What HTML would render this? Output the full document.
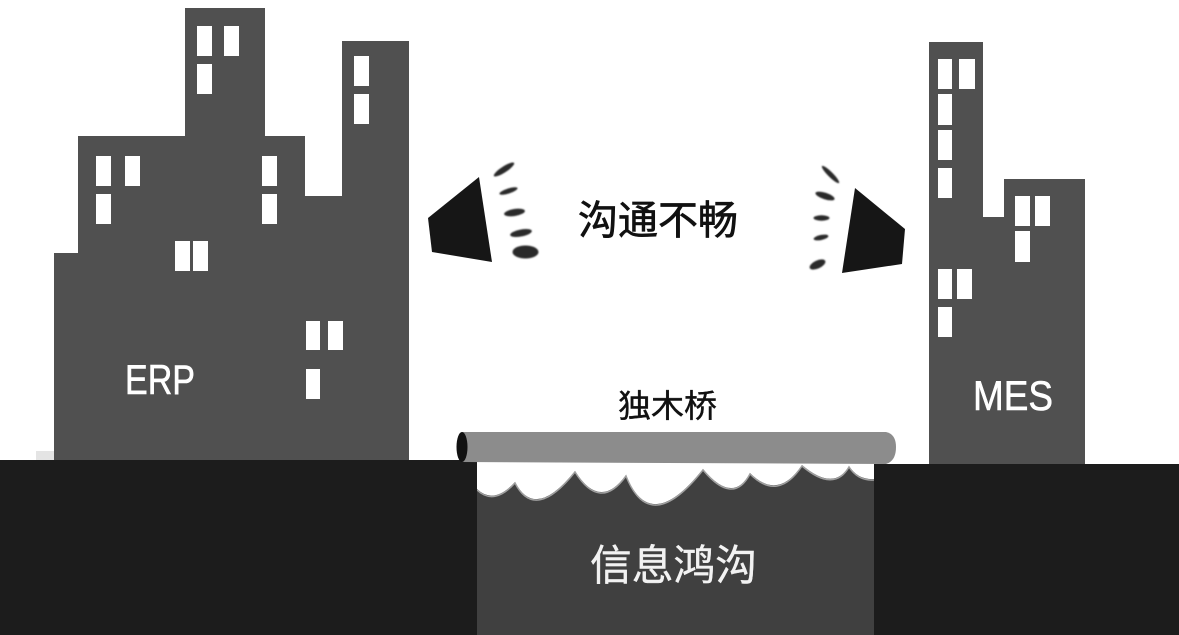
<!DOCTYPE html>
<html>
<head>
<meta charset="utf-8">
<style>
html,body{margin:0;padding:0;background:#fff;width:1179px;height:635px;overflow:hidden}
svg{display:block}
text{font-family:"Liberation Sans","Noto Sans CJK SC",sans-serif}
</style>
</head>
<body>
<svg width="1179" height="635" viewBox="0 0 1179 635" xmlns="http://www.w3.org/2000/svg">
<defs><filter id="b" x="-30%" y="-60%" width="160%" height="220%"><feGaussianBlur stdDeviation="0.7"/></filter></defs>
<rect width="1179" height="635" fill="#fff"/>
<rect x="36" y="451" width="20" height="10" fill="#e4e4e4"/>

<!-- ERP building -->
<polygon points="54,461 54,253 78,253 78,136 185,136 185,8 265,8 265,136 305,136 305,196 342,196 342,41 409,41 409,461" fill="#505050"/>
<g fill="#fff">
<rect x="197" y="26" width="15" height="30"/><rect x="224" y="26" width="15" height="30"/><rect x="197" y="64" width="15" height="30"/>
<rect x="354" y="56" width="15" height="30"/><rect x="354" y="94" width="15" height="30"/>
<rect x="96" y="156" width="15" height="30"/><rect x="125" y="156" width="15" height="30"/><rect x="96" y="194" width="15" height="30"/>
<rect x="262" y="156" width="15" height="30"/><rect x="262" y="194" width="15" height="30"/>
<rect x="175" y="241" width="15" height="30"/><rect x="193" y="241" width="15" height="30"/>
<rect x="306" y="321" width="14" height="29"/><rect x="328" y="321" width="15" height="29"/><rect x="306" y="369" width="14" height="30"/>
</g>
<text x="125" y="394" font-size="42" fill="#fff" stroke="#fff" stroke-width="0.6" textLength="70" lengthAdjust="spacingAndGlyphs">ERP</text>

<!-- MES building -->
<polygon points="929,465 929,42 983,42 983,217 1004,217 1004,179 1085,179 1085,465" fill="#505050"/>
<g fill="#fff">
<rect x="938" y="59" width="14" height="30"/><rect x="959" y="59" width="16" height="30"/>
<rect x="938" y="94" width="14" height="31"/><rect x="938" y="130" width="14" height="30"/><rect x="938" y="168" width="14" height="30"/>
<rect x="1015" y="196" width="15" height="30"/><rect x="1035" y="196" width="15" height="30"/><rect x="1015" y="231" width="15" height="31"/>
<rect x="938" y="269" width="14" height="30"/><rect x="957" y="269" width="15" height="30"/><rect x="938" y="307" width="14" height="30"/>
</g>
<text x="973" y="410" font-size="42" fill="#fff" stroke="#fff" stroke-width="0.6" textLength="80" lengthAdjust="spacingAndGlyphs">MES</text>

<!-- Water -->
<rect x="477" y="462" width="397" height="173" fill="#404040"/>
<path d="M477,462 L874,462 L874,479 Q858,480 849,466 Q834,492 802,465 Q778,501 750,473 Q733,505 703,469 Q650,536 626,475 Q600,511 575,471 Q535,521 515,482 Q494,505 477,489 Z" fill="#fff"/>
<path d="M477,490 Q494,506 515,483 Q535,522 575,472 Q600,512 626,476 Q650,537 703,470 Q733,506 750,474 Q778,502 802,466 Q834,493 849,467 Q858,481 874,480" fill="none" stroke="#a0a0a0" stroke-width="1.5"/>

<!-- Ground -->
<rect x="0" y="460" width="477" height="175" fill="#1c1c1c"/>
<rect x="874" y="464" width="305" height="171" fill="#1c1c1c"/>

<!-- Log bridge -->
<path d="M462,432 L886,432 Q896,434 896,447 Q896,461 886,464 L462,462 Z" fill="#8c8c8c"/>
<ellipse cx="462" cy="447" rx="5.5" ry="15" fill="#111"/>
<text x="618" y="417" font-size="32" fill="#111" stroke="#111" stroke-width="0.4" textLength="99" lengthAdjust="spacingAndGlyphs">独木桥</text>

<!-- Megaphones -->
<polygon points="428,218 479,177 492,262 432,252" fill="#161616"/>
<polygon points="855,188 905,229 902,264 842,273" fill="#161616"/>
<g fill="#2a2a2a" filter="url(#b)">
<ellipse cx="504" cy="169.500" rx="12" ry="3" transform="rotate(-33 504 169.500)"/>
<ellipse cx="508.500" cy="191" rx="9.500" ry="2.500" transform="rotate(-18 508.500 191)"/>
<ellipse cx="514.500" cy="212.500" rx="10.500" ry="3.500" transform="rotate(-9 514.500 212.500)"/>
<ellipse cx="521" cy="233" rx="11" ry="3.500" transform="rotate(-11 521 233)"/>
<ellipse cx="525.500" cy="252" rx="13" ry="6.500"/>
<ellipse cx="830.500" cy="174.500" rx="12" ry="2.500" transform="rotate(45 830.500 174.500)"/>
<ellipse cx="825" cy="196" rx="10" ry="3.300" transform="rotate(18 825 196)"/>
<ellipse cx="821.500" cy="218" rx="8" ry="2.700"/>
<ellipse cx="821" cy="237.500" rx="7.500" ry="2.500" transform="rotate(-12 821 237.500)"/>
<ellipse cx="817.500" cy="264.500" rx="8.500" ry="4" transform="rotate(-25 817.500 264.500)"/>
</g>

<text x="578" y="234" font-size="40" fill="#111" stroke="#111" stroke-width="0.7" textLength="160" lengthAdjust="spacingAndGlyphs">沟通不畅</text>
<text x="590" y="580" font-size="42" fill="#f2f2f2" stroke="#f2f2f2" stroke-width="0.4" textLength="167" lengthAdjust="spacingAndGlyphs">信息鸿沟</text>
</svg>
</body>
</html>
